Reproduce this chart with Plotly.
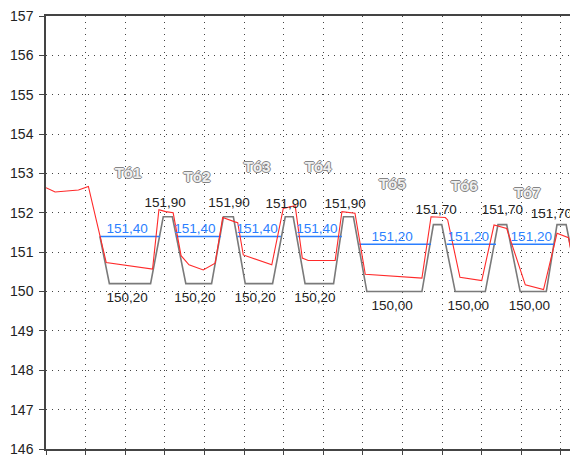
import plotly.graph_objects as go

# Measured (red) profile
meas_x = [0.0, 0.23, 0.82, 1.07, 1.52, 2.69, 2.85, 3.02, 3.21, 3.41, 3.61, 3.97, 4.27,
          4.46, 4.77, 4.84, 4.98, 5.70, 5.99, 6.29, 6.47, 6.62, 7.30, 7.47, 7.80, 8.06,
          9.49, 9.72, 10.08, 10.14, 10.45, 11.00, 11.31, 11.63, 12.10, 12.56, 12.90,
          13.19, 13.33, 13.43, 13.6]
meas_y = [152.64, 152.53, 152.58, 152.67, 150.74, 150.57, 152.08, 152.03, 152.00, 150.91,
          150.68, 150.55, 150.72, 151.88, 151.77, 151.75, 150.93, 150.68, 152.11, 152.18,
          150.85, 150.79, 150.79, 152.03, 151.99, 150.44, 150.34, 151.90, 151.88, 151.82,
          150.36, 150.28, 151.69, 151.60, 150.17, 150.05, 151.48, 151.37, 150.61, 150.65,
          150.70]

# Design (grey) profile
design_x = [1.36, 1.60, 2.64, 2.96, 3.19, 3.53, 4.18, 4.48, 4.73, 5.03, 5.72, 6.04, 6.24,
            6.54, 7.26, 7.51, 7.76, 8.10, 9.49, 9.78, 9.99, 10.33, 11.09, 11.41, 11.63,
            11.97, 12.63, 12.90, 13.13, 13.47, 14.0]
design_y = [151.40, 150.20, 150.20, 151.90, 151.90, 150.20, 150.20, 151.90, 151.90, 150.20,
            150.20, 151.90, 151.90, 150.20, 150.20, 151.90, 151.90, 150.00, 150.00, 151.70,
            151.70, 150.00, 150.00, 151.70, 151.70, 150.00, 150.00, 151.70, 151.70, 150.00,
            150.00]

# Average levels (blue) per section
avg_start = [1.36, 3.28, 4.83, 6.35, 7.91, 10.12, 11.74]
avg_end = [2.88, 4.42, 5.93, 7.47, 9.72, 11.36, 12.85]
avg_level = [151.40, 151.40, 151.40, 151.40, 151.20, 151.20, 151.20]
avg_text = ["151,40", "151,40", "151,40", "151,40", "151,20", "151,20", "151,20"]
avg_lbl_x = [2.05, 3.76, 5.33, 6.84, 8.74, 10.66, 12.25]
avg_lbl_y = [151.57, 151.57, 151.57, 151.57, 151.37, 151.37, 151.37]

# Section names
sect_names = ["Tó1", "Tó2", "Tó3", "Tó4", "Tó5", "Tó6", "Tó7"]
sect_x = [2.07, 3.81, 5.33, 6.87, 8.74, 10.56, 12.15]
sect_y = [152.99, 152.88, 153.14, 153.12, 152.70, 152.66, 152.46]

# Top (dam crest) labels
top_text = ["151,90", "151,90", "151,90", "151,90", "151,70", "151,70", "151,70"]
top_x = [3.01, 4.62, 6.06, 7.55, 9.85, 11.52, 12.76]
top_y = [152.24, 152.24, 152.22, 152.20, 152.05, 152.05, 151.96]

# Bottom labels
bot_text = ["150,20", "150,20", "150,20", "150,20", "150,00", "150,00", "150,00"]
bot_x = [2.05, 3.76, 5.28, 6.79, 8.74, 10.66, 12.20]
bot_y = [149.83, 149.83, 149.83, 149.83, 149.61, 149.61, 149.61]

FONT = "Liberation Sans, Arial, sans-serif"

fig = go.Figure()

fig.add_trace(go.Scatter(x=design_x, y=design_y, mode="lines",
                         line=dict(color="#7a7a7a", width=1.6), hoverinfo="skip"))

for xs, xe, lv in zip(avg_start, avg_end, avg_level):
    fig.add_trace(go.Scatter(x=[xs, xe], y=[lv, lv], mode="lines",
                             line=dict(color="#2b7fff", width=1.6), hoverinfo="skip"))

fig.add_trace(go.Scatter(x=meas_x, y=meas_y, mode="lines",
                         line=dict(color="#ff2a2a", width=1.1), hoverinfo="skip"))

fig.add_trace(go.Scatter(x=avg_lbl_x, y=avg_lbl_y, mode="text", text=avg_text,
                         textfont=dict(family=FONT, size=13.5, color="#2b7fff")))
fig.add_trace(go.Scatter(x=top_x, y=top_y, mode="text", text=top_text, cliponaxis=False,
                         textfont=dict(family=FONT, size=13.5, color="#222222")))
fig.add_trace(go.Scatter(x=bot_x, y=bot_y, mode="text", text=bot_text,
                         textfont=dict(family=FONT, size=13.5, color="#222222")))
fig.add_trace(go.Scatter(x=sect_x, y=sect_y, mode="text", text=sect_names,
                         textfont=dict(family=FONT, size=15, color="#f0f0f0", weight="bold",
                                       shadow="1px 0 #858585, -1px 0 #858585, 0 1px #858585, 0 -1px #858585")))

# The page body has an 8px margin, so the figure is sized and offset to fit the window.
fig.update_layout(
    width=570, height=449,
    margin=dict(l=38, r=0, t=5, b=8),
    paper_bgcolor="white", plot_bgcolor="white",
    showlegend=False,
    font=dict(family=FONT, size=14, color="#222222"),
    xaxis=dict(range=[0, 13.43], dtick=1, tick0=0, showticklabels=False,
               showgrid=True, gridcolor="#444444", griddash="1px,5px", gridwidth=1,
               showline=True, linecolor="#444444", linewidth=1.5, mirror=True,
               ticks="outside", ticklen=4, tickcolor="#444444", zeroline=False),
    yaxis=dict(range=[146, 157], dtick=1, tick0=146,
               showgrid=True, gridcolor="#444444", griddash="1px,5px", gridwidth=1,
               showline=True, linecolor="#444444", linewidth=1.5,
               ticks="outside", ticklen=5, tickcolor="#444444", zeroline=False,
               ticklabeloverflow="allow", ticklabelstandoff=3,
               tickfont=dict(family=FONT, size=14, color="#222222")),
)

fig.write_html("out.html")
